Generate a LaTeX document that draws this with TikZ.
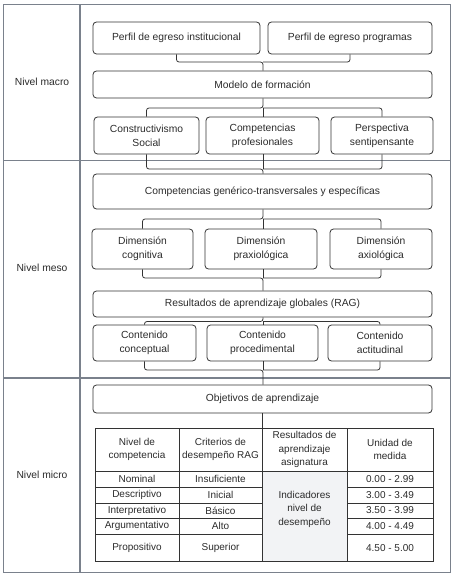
\documentclass[tikz,border=0pt]{standalone}
\usepackage{fontspec}
\setmainfont{Liberation Sans}
\usetikzlibrary{positioning,calc}
\definecolor{framec}{HTML}{7A818C}
\definecolor{linec}{HTML}{333333}
\definecolor{txtc}{HTML}{2B2B2B}
\definecolor{cellfill}{HTML}{F2F3F5}
\tikzset{
  box/.style={draw=linec, line width=0.8pt, rounded corners=3.5pt, align=center, inner sep=0pt,
    text=txtc, font=\fontsize{10.3}{14}\selectfont},
  conn/.style={draw=linec, line width=0.8pt, rounded corners=2.5pt},
  lvl/.style={text=txtc, font=\fontsize{10.3}{13}\selectfont},
  cell/.style={text=txtc, align=center, inner sep=0pt, font=\fontsize{10}{13.5}\selectfont},
  tline/.style={draw=linec, line width=0.7pt},
  frm/.style={draw=framec, line width=1.5pt}
}
\begin{document}
\begin{tikzpicture}[x=1pt,y=-1pt]
\useasboundingbox (0,0) rectangle (455,577);
% frame
\draw[frm] (3.5,4.5) rectangle (450.5,572.5);
\draw[frm] (80,4.5) -- (80,572.5);
\draw[frm] (3.5,160.5) -- (450.5,160.5);
\draw[frm] (3.5,378) -- (450.5,378);
% level labels
\node[lvl] (lmacro) at (42,82) {Nivel macro};
\node[lvl] (lmeso) at (42,268) {Nivel meso};
\node[lvl] (lmicro) at (42,475) {Nivel micro};
% macro
\node[box, minimum width=167pt, minimum height=32pt] (pi) at (176.5,38) {Perfil de egreso institucional};
\node[box, minimum width=164pt, minimum height=32pt] (pp) at (350,38) {Perfil de egreso programas};
\node[box, minimum width=339pt, minimum height=27pt] (mf) at (262.5,84.5) {Modelo de formación};
\node[box, minimum width=105pt, minimum height=37pt] (cs) at (146.5,135.5) {Constructivismo\\Social};
\node[box, minimum width=113pt, minimum height=37pt] (cp) at (262.5,135.5) {Competencias\\profesionales};
\node[box, minimum width=102pt, minimum height=37pt] (ps) at (382,135.5) {Perspectiva\\sentipensante};
% meso
\node[box, minimum width=339pt, minimum height=35pt] (cg) at (262.5,191.5) {Competencias genérico-transversales y específicas};
\node[box, minimum width=101pt, minimum height=40pt] (d1) at (142.5,249) {Dimensión\\cognitiva};
\node[box, minimum width=112pt, minimum height=40pt] (d2) at (261,249) {Dimensión\\praxiológica};
\node[box, minimum width=102pt, minimum height=40pt] (d3) at (381,249) {Dimensión\\axiológica};
\node[box, minimum width=339pt, minimum height=26pt] (rag) at (262.5,304) {Resultados de aprendizaje globales (RAG)};
\node[box, minimum width=103pt, minimum height=36pt] (c1) at (144.5,343) {Contenido\\conceptual};
\node[box, minimum width=111pt, minimum height=36pt] (c2) at (262.5,343) {Contenido\\procedimental};
\node[box, minimum width=104pt, minimum height=36pt] (c3) at (380,343) {Contenido\\actitudinal};
% micro
\node[box, minimum width=339pt, minimum height=28pt] (obj) at (262.5,399) {Objetivos de aprendizaje};
% connectors
\coordinate (j1) at (263,62);
\draw[conn] (pi.south) |- (j1) -- (j1 |- mf.north);
\draw[conn] (pp.south) |- (j1);
\coordinate (j2) at (263,108);
\draw[conn] (j2 |- mf.south) -- (j2) -| (cs.north);
\draw[conn] (j2) -| (ps.north);
\draw[conn] (j2) -- (j2 |- cp.north);
\coordinate (j3) at (263,169);
\draw[conn] (cs.south) |- (j3) -- (j3 |- cg.north);
\draw[conn] (ps.south) |- (j3);
\draw[conn] (j3 |- cp.south) -- (j3);
\coordinate (j4) at (263,219);
\draw[conn] (j4 |- cg.south) -- (j4) -| (d1.north);
\draw[conn] (j4) -| (d3.north);
\draw[conn] (j4) -- (j4 |- d2.north);
\coordinate (j5) at (263,278);
\draw[conn] (d1.south) |- (j5) -- (j5 |- rag.north);
\draw[conn] (d3.south) |- (j5);
\draw[conn] (j5 |- d2.south) -- (j5);
\coordinate (j6) at (263,321.5);
\draw[conn] (j6 |- rag.south) -- (j6) -| (c1.north);
\draw[conn] (j6) -| (c3.north);
\draw[conn] (j6) -- (j6 |- c2.north);
\coordinate (j7) at (263,370);
\draw[conn] (c1.south) |- (j7) -- (j7 |- obj.north);
\draw[conn] (c3.south) |- (j7);
\draw[conn] (j7 |- c2.south) -- (j7);
% table
\fill[cellfill] (262,471) rectangle (347,561);
\node[tline, draw, minimum width=338pt, minimum height=133pt, inner sep=0pt] (tbl) at (264,494.5) {};
\draw[conn] (obj.south) -- (obj.south |- tbl.north);
\foreach \xx in {179,262,347} \draw[tline] (\xx,428) -- (\xx,561);
\draw[tline] (95,471) -- (433,471);
\foreach \yy in {487,503,518,534} {
  \draw[tline] (95,\yy) -- (262,\yy);
  \draw[tline] (347,\yy) -- (433,\yy);
}
\node[cell] (h1) at (137,449.5) {Nivel de\\competencia};
\node[cell] (h2) at (220.5,449.5) {Criterios de\\desempeño RAG};
\node[cell] (h3) at (304.5,449.5) {Resultados de\\aprendizaje\\asignatura};
\node[cell] (h4) at (390,449.5) {Unidad de\\medida};
\node[cell] (r1a) at (137,479) {Nominal};
\node[cell] (r2a) at (137,495) {Descriptivo};
\node[cell] (r3a) at (137,510.5) {Interpretativo};
\node[cell] (r4a) at (137,526) {Argumentativo};
\node[cell] (r5a) at (137,548) {Propositivo};
\node[cell] (r1b) at (220.5,479) {Insuficiente};
\node[cell] (r2b) at (220.5,495) {Inicial};
\node[cell] (r3b) at (220.5,510.5) {Básico};
\node[cell] (r4b) at (220.5,526) {Alto};
\node[cell] (r5b) at (220.5,548) {Superior};
\node[cell] (ind) at (304.5,509) {Indicadores\\nivel de\\desempeño};
\node[cell] (r1d) at (390,479) {0.00 - 2.99};
\node[cell] (r2d) at (390,495) {3.00 - 3.49};
\node[cell] (r3d) at (390,510.5) {3.50 - 3.99};
\node[cell] (r4d) at (390,526) {4.00 - 4.49};
\node[cell] (r5d) at (390,548) {4.50 - 5.00};
\end{tikzpicture}
\end{document}
